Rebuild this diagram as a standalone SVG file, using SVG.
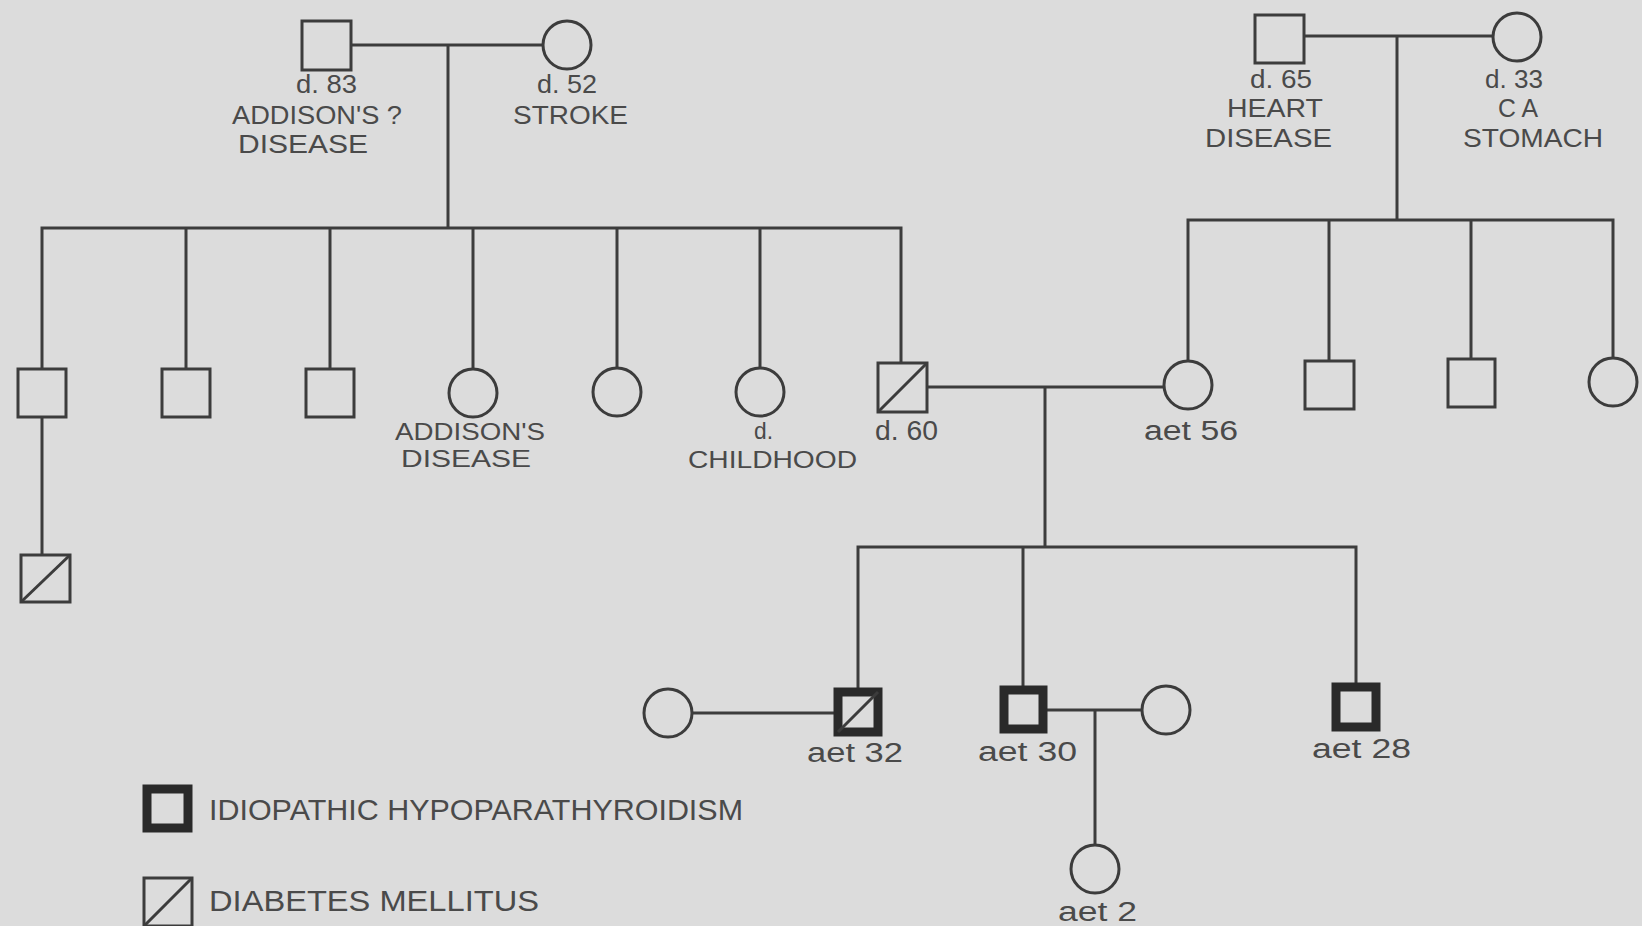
<svg xmlns="http://www.w3.org/2000/svg" width="1642" height="926" viewBox="0 0 1642 926">
<style>
.ln{stroke:#3c3c3c;stroke-width:3;fill:none;stroke-linecap:square}
.nd{stroke:#3c3c3c;stroke-width:3;fill:#dcdcdc}
.af{stroke:#2a2a2a;stroke-width:9;fill:#dcdcdc}
.dg{stroke:#3c3c3c;stroke-width:3}
text{font-family:"Liberation Sans",Arial,sans-serif;fill:#4a4a4a;font-size:27px}
.big{font-size:26px}
.lg{font-size:29px}
.md{font-size:24px}
</style>
<rect width="1642" height="926" fill="#dcdcdc"/>
<g id="connectors">
<path class="ln" d="M351 45H543M448 45V228M42 228H901M42 228V369M186 228V369M330 228V369M473 228V369M617 228V368M760 228V368M901 228V363M42 417V555"/>
<path class="ln" d="M1304 36H1493M1397 36V220M1188 220H1613M1188 220V361M1329 220V361M1471 220V359M1613 220V358"/>
<path class="ln" d="M927 387H1165M1045 387V547M858 547H1356M858 547V688M1023 547V686M1356 547V683"/>
<path class="ln" d="M692 713H834M1047 710H1142M1095 710V845"/>
</g>
<g id="n_gf">
<rect class="nd" x="302" y="21" width="49" height="49"/>
<text class="big" x="296" y="93" textLength="61" lengthAdjust="spacingAndGlyphs">d. 83</text>
<text class="big" x="232" y="124" textLength="170" lengthAdjust="spacingAndGlyphs">ADDISON'S ?</text>
<text class="big" x="238" y="153" textLength="130" lengthAdjust="spacingAndGlyphs">DISEASE</text>
</g>
<g id="n_gm">
<circle class="nd" cx="567" cy="45" r="24"/>
<text class="big" x="537" y="93" textLength="60" lengthAdjust="spacingAndGlyphs">d. 52</text>
<text class="big" x="513" y="124" textLength="115" lengthAdjust="spacingAndGlyphs">STROKE</text>
</g>
<g id="n_mgf">
<rect class="nd" x="1255" y="15" width="49" height="48"/>
<text class="big" x="1250" y="88" textLength="62" lengthAdjust="spacingAndGlyphs">d. 65</text>
<text class="big" x="1227" y="117" textLength="96" lengthAdjust="spacingAndGlyphs">HEART</text>
<text class="big" x="1205" y="147" textLength="127" lengthAdjust="spacingAndGlyphs">DISEASE</text>
</g>
<g id="n_mgm">
<circle class="nd" cx="1517" cy="37" r="24"/>
<text class="big" x="1485" y="88" textLength="58" lengthAdjust="spacingAndGlyphs">d. 33</text>
<text class="big" x="1498" y="117" textLength="40" lengthAdjust="spacingAndGlyphs">C A</text>
<text class="big" x="1463" y="147" textLength="140" lengthAdjust="spacingAndGlyphs">STOMACH</text>
</g>
<g id="n_s1"><rect class="nd" x="18" y="369" width="48" height="48"/></g>
<g id="n_s1c"><rect class="nd" x="21" y="555" width="49" height="47"/><line class="dg" x1="21" y1="602" x2="70" y2="555"/></g>
<g id="n_s2"><rect class="nd" x="162" y="369" width="48" height="48"/></g>
<g id="n_s3"><rect class="nd" x="306" y="369" width="48" height="48"/></g>
<g id="n_s4">
<circle class="nd" cx="473" cy="393" r="24"/>
<text class="md" x="395" y="440" textLength="150" lengthAdjust="spacingAndGlyphs">ADDISON'S</text>
<text class="md" x="401" y="467" textLength="130" lengthAdjust="spacingAndGlyphs">DISEASE</text>
</g>
<g id="n_s5"><circle class="nd" cx="617" cy="392" r="24"/></g>
<g id="n_s6">
<circle class="nd" cx="760" cy="392" r="24"/>
<text class="md" x="754" y="439" textLength="19" lengthAdjust="spacingAndGlyphs">d.</text>
<text class="md" x="688" y="468" textLength="169" lengthAdjust="spacingAndGlyphs">CHILDHOOD</text>
</g>
<g id="n_father">
<rect class="nd" x="878" y="363" width="49" height="49"/><line class="dg" x1="878" y1="412" x2="927" y2="363"/>
<text x="875" y="440" textLength="63" lengthAdjust="spacingAndGlyphs">d. 60</text>
</g>
<g id="n_mother">
<circle class="nd" cx="1188" cy="385" r="24"/>
<text x="1144" y="440" textLength="94" lengthAdjust="spacingAndGlyphs">aet 56</text>
</g>
<g id="n_m2"><rect class="nd" x="1305" y="361" width="49" height="48"/></g>
<g id="n_m3"><rect class="nd" x="1448" y="359" width="47" height="48"/></g>
<g id="n_m4"><circle class="nd" cx="1613" cy="382" r="24"/></g>
<g id="n_wife32"><circle class="nd" cx="668" cy="713" r="24"/></g>
<g id="n_p32">
<rect class="af" x="838" y="692" width="40" height="40"/><line class="dg" x1="838" y1="732" x2="878" y2="692"/>
<text x="807" y="762" textLength="96" lengthAdjust="spacingAndGlyphs">aet 32</text>
</g>
<g id="n_p30">
<rect class="af" x="1004" y="690" width="39" height="39"/>
<text x="978" y="761" textLength="99" lengthAdjust="spacingAndGlyphs">aet 30</text>
</g>
<g id="n_wife30"><circle class="nd" cx="1166" cy="710" r="24"/></g>
<g id="n_child2">
<circle class="nd" cx="1095" cy="869" r="24"/>
<text x="1058" y="921" textLength="79" lengthAdjust="spacingAndGlyphs">aet 2</text>
</g>
<g id="n_p28">
<rect class="af" x="1336" y="687" width="40" height="40"/>
<text x="1312" y="758" textLength="99" lengthAdjust="spacingAndGlyphs">aet 28</text>
</g>
<g id="legend">
<rect class="af" x="147" y="789" width="41" height="39"/>
<text class="lg" x="209" y="820" textLength="534" lengthAdjust="spacingAndGlyphs">IDIOPATHIC HYPOPARATHYROIDISM</text>
<rect class="nd" x="144" y="878" width="48" height="48"/><line class="dg" x1="144" y1="926" x2="192" y2="878"/>
<text class="lg" x="209" y="911" textLength="330" lengthAdjust="spacingAndGlyphs">DIABETES MELLITUS</text>
</g>
</svg>
